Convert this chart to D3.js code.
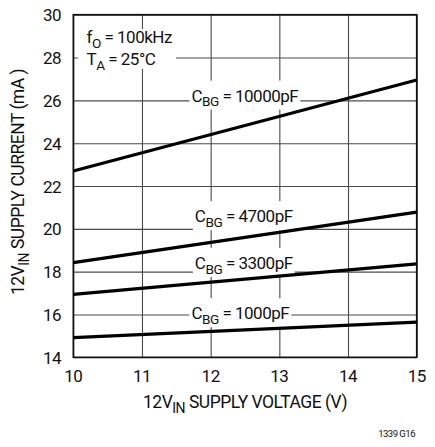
<!DOCTYPE html>
<html>
<head>
<meta charset="utf-8">
<script src="https://cdn.jsdelivr.net/npm/d3@7"></script>
<style>
  body { margin: 0; background: #fff; }
  text { font-family: Roboto, "Liberation Sans", sans-serif; fill: #111; letter-spacing: -0.5px; }
</style>
</head>
<body>
<div id="chart"></div>
<script>
// supply voltage (V) at the ends of each line
var voltages = [10, 15];
// supply current (mA) for each C_BG value
var curve10000 = [22.7, 26.95];
var curve4700 = [18.42, 20.78];
var curve3300 = [16.94, 18.36];
var curve1000 = [14.92, 15.64];
var seriesNames = ["10000pF", "4700pF", "3300pF", "1000pF"];
var seriesValues = [curve10000, curve4700, curve3300, curve1000];
// label anchor (voltage, current) for each series label
var labelAt = [[11.72, 25.94], [11.77, 20.31], [11.77, 18.13], [11.72, 15.78]];

var xTicks = [10, 11, 12, 13, 14, 15];
var yTicks = [14, 16, 18, 20, 22, 24, 26, 28, 30];

// canvas size
var wcanvas = 435;
var hcanvas = 447;
// plot box
var pLeft = 73.3, pRight = 416.7, pTop = 14.7, pBottom = 357.3;

var svg = d3.select('#chart').append('svg')
  .attr('width', wcanvas)
  .attr('height', hcanvas);

var x = d3.scaleLinear().domain([10, 15]).range([pLeft, pRight]);
var y = d3.scaleLinear().domain([14, 30]).range([pBottom, pTop]);

// grid lines
svg.append('g')
  .attr('transform', 'translate(0,' + pBottom + ')')
  .call(d3.axisBottom(x).tickValues(xTicks).tickSize(-(pBottom - pTop)).tickFormat(''))
  .call(function (g) {
    g.select('.domain').remove();
    g.selectAll('line').attr('stroke', '#4a4a4a').attr('stroke-width', 1.1);
  });
svg.append('g')
  .attr('transform', 'translate(' + pLeft + ',0)')
  .call(d3.axisLeft(y).tickValues(yTicks).tickSize(-(pRight - pLeft)).tickFormat(''))
  .call(function (g) {
    g.select('.domain').remove();
    g.selectAll('line').attr('stroke', '#4a4a4a').attr('stroke-width', 1.1);
  });

// tick labels
svg.selectAll('text.xt').data(xTicks).enter().append('text')
  .attr('class', 'xt')
  .attr('x', function (d) { return x(d); })
  .attr('y', 382)
  .attr('text-anchor', 'middle')
  .attr('font-size', '17px')
  .text(function (d) { return d; });
svg.selectAll('text.yt').data(yTicks).enter().append('text')
  .attr('class', 'yt')
  .attr('x', 61)
  .attr('y', function (d) { return y(d) + 6.5; })
  .attr('text-anchor', 'end')
  .attr('font-size', '17px')
  .text(function (d) { return d; });

// helper: text with subscript
var subText = function (g, parts, size) {
  var t = g.append('text').attr('font-size', size + 'px');
  parts.forEach(function (p) {
    if (p.sub) {
      t.append('tspan').attr('font-size', (size * 0.8) + 'px').attr('dy', size * 0.28).text(p.s);
    } else {
      t.append('tspan').attr('dy', p.back ? -size * 0.28 : 0).text(p.s);
    }
  });
  return t;
};

// condition labels, white box behind
var cond = svg.append('g');
cond.append('rect').attr('x', 78).attr('y', 29).attr('width', 98).attr('height', 40).attr('fill', '#fff');
subText(cond, [{s: 'f'}, {s: 'O', sub: true}, {s: ' = 100kHz', back: true}], 17).attr('x', 86.5).attr('y', 43.3);
subText(cond, [{s: 'T'}, {s: 'A', sub: true}, {s: ' = 25°C', back: true}], 17).attr('x', 86.5).attr('y', 65);

// series labels
seriesNames.forEach(function (name, i) {
  var g = svg.append('g');
  var t = subText(g, [{s: 'C'}, {s: 'BG', sub: true}, {s: ' = ' + name, back: true}], 17)
    .attr('x', x(labelAt[i][0]))
    .attr('y', y(labelAt[i][1]));
  var bb = t.node().getBBox();
  g.insert('rect', 'text')
    .attr('x', bb.x - 2).attr('y', y(labelAt[i][1]) - 21)
    .attr('width', bb.width + 4).attr('height', 29)
    .attr('fill', '#fff');
});

// frame
svg.append('rect')
  .attr('x', pLeft).attr('y', pTop)
  .attr('width', pRight - pLeft).attr('height', pBottom - pTop)
  .attr('fill', 'none').attr('stroke', '#111').attr('stroke-width', 1.6);

// data lines
var line = d3.line()
  .x(function (d, i) { return x(voltages[i]); })
  .y(function (d) { return y(d); });
svg.selectAll('path.curve').data(seriesValues).enter().append('path')
  .attr('class', 'curve')
  .attr('d', line)
  .attr('fill', 'none')
  .attr('stroke', '#000')
  .attr('stroke-width', 3.2);

// axis titles
subText(svg, [{s: '12V'}, {s: 'IN', sub: true}, {s: ' SUPPLY VOLTAGE (V)', back: true}], 17.5)
  .attr('x', 245).attr('y', 408).attr('text-anchor', 'middle');
subText(svg, [{s: '12V'}, {s: 'IN', sub: true}, {s: ' SUPPLY CURRENT (mA )', back: true}], 17.5)
  .attr('transform', 'translate(24,182) rotate(-90)').attr('text-anchor', 'middle');

svg.append('text')
  .attr('x', 415).attr('y', 437)
  .attr('text-anchor', 'end')
  .attr('font-size', '9.5px')
  .text('1339 G16');
</script>
</body>
</html>
